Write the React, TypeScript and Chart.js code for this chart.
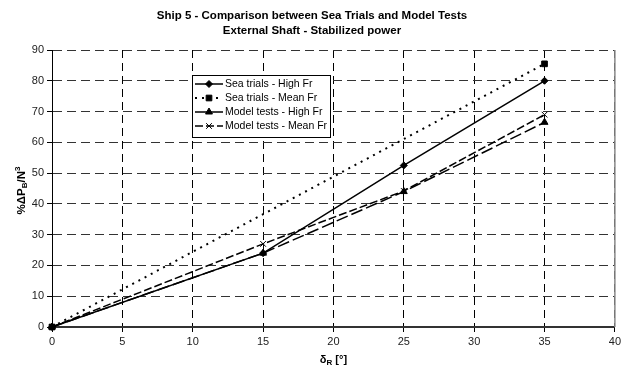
import React, { useEffect, useRef } from 'react';
import { Chart, registerables } from 'chart.js';
import { drawPoint } from 'chart.js/helpers';

Chart.register(...registerables);

const titleLines = ['Ship 5 - Comparison between Sea Trials and Model Tests', 'External Shaft - Stabilized power'];
const seriesNames = ['Sea trials - High Fr', 'Sea trials - Mean Fr', 'Model tests - High Fr', 'Model tests - Mean Fr'];
const xMin = 0, xMax = 40, xStep = 5;
const yMin = 0, yMax = 90, yStep = 10;

const seaHighX = [0, 15, 25, 35];
const seaHighY = [0, 24, 52.5, 80];
const seaMeanX = [0, 35];
const seaMeanY = [0, 85.5];
const modelHighX = [0, 15, 25, 35];
const modelHighY = [0, 24, 44, 66.5];
const modelMeanX = [0, 15, 25, 35];
const modelMeanY = [0, 27, 44.2, 69];

const pts = (xs: number[], ys: number[]) => xs.map((x, i) => ({ x, y: ys[i] }));

const styles = [
  { dash: [] as number[], point: 'rectRot', radius: 3.5, width: 1.5 },
  { dash: [2, 5], point: 'rect', radius: 4, width: 2 },
  { dash: [12, 4], point: 'triangle', radius: 4, width: 1.5 },
  { dash: [8, 3], point: 'crossRot', radius: 4, width: 1.5 },
];

const FONT = '"Liberation Sans", Arial, sans-serif';

const decorPlugin = {
  id: 'decor',
  afterDraw(chart: any) {
    const ctx = chart.ctx as CanvasRenderingContext2D;
    const ca = chart.chartArea;
    ctx.save();
    // right border
    ctx.strokeStyle = '#888';
    ctx.lineWidth = 1.5;
    ctx.setLineDash([]);
    ctx.beginPath();
    ctx.moveTo(ca.right, ca.top);
    ctx.lineTo(ca.right, ca.bottom);
    ctx.stroke();

    // title
    ctx.fillStyle = '#000';
    ctx.font = `bold 11.5px ${FONT}`;
    ctx.textAlign = 'center';
    ctx.textBaseline = 'middle';
    ctx.fillText(titleLines[0], 312, 16);
    ctx.fillText(titleLines[1], 312, 31);

    // x title: δR [°]
    const xc = (ca.left + ca.right) / 2;
    const yx = 360;
    ctx.font = `bold 11px ${FONT}`;
    const a = 'δ', b = 'R', c = ' [°]';
    ctx.textAlign = 'left';
    const wa = ctx.measureText(a).width;
    const wc = ctx.measureText(c).width;
    ctx.font = `bold 8px ${FONT}`;
    const wb = ctx.measureText(b).width;
    let x0 = xc - (wa + wb + wc) / 2;
    ctx.font = `bold 11px ${FONT}`;
    ctx.fillText(a, x0, yx);
    ctx.font = `bold 8px ${FONT}`;
    ctx.fillText(b, x0 + wa, yx + 3);
    ctx.font = `bold 11px ${FONT}`;
    ctx.fillText(c, x0 + wa + wb, yx);

    // y title: %ΔP_B/N^3 rotated
    ctx.save();
    ctx.translate(22, (ca.top + ca.bottom) / 2 + 2);
    ctx.rotate(-Math.PI / 2);
    const parts = [
      { t: '%ΔP', s: 11.5, dy: 0 },
      { t: 'B', s: 8, dy: 3 },
      { t: '/N', s: 11.5, dy: 0 },
      { t: '3', s: 8, dy: -4 },
    ];
    let tw = 0;
    parts.forEach(p => { ctx.font = `bold ${p.s}px ${FONT}`; tw += ctx.measureText(p.t).width; });
    let px = -tw / 2;
    parts.forEach(p => {
      ctx.font = `bold ${p.s}px ${FONT}`;
      ctx.fillText(p.t, px, p.dy);
      px += ctx.measureText(p.t).width;
    });
    ctx.restore();

    // legend
    const lx = 192, ly = 75, lw = 138, lh = 62;
    ctx.fillStyle = '#fff';
    ctx.fillRect(lx, ly, lw, lh);
    ctx.strokeStyle = '#000';
    ctx.lineWidth = 1;
    ctx.setLineDash([]);
    ctx.strokeRect(lx + 0.5, ly + 0.5, lw, lh);
    seriesNames.forEach((name, i) => {
      const st = styles[i];
      const yy = ly + 9 + i * 14;
      ctx.strokeStyle = '#000';
      ctx.lineWidth = st.width;
      ctx.setLineDash(st.dash);
      ctx.beginPath();
      ctx.moveTo(lx + 3, yy);
      ctx.lineTo(lx + 31, yy);
      ctx.stroke();
      ctx.setLineDash([]);
      ctx.fillStyle = '#000';
      ctx.lineWidth = 1;
      drawPoint(ctx, { pointStyle: st.point as any, radius: st.radius, rotation: 0, borderWidth: 1 } as any, lx + 17, yy);
      ctx.fillStyle = '#000';
      ctx.font = `10.5px ${FONT}`;
      ctx.textAlign = 'left';
      ctx.textBaseline = 'middle';
      ctx.fillText(name, lx + 33, yy + 0.5);
    });
    ctx.restore();
  },
};

export default function App() {
  const ref = useRef<HTMLCanvasElement>(null);
  useEffect(() => {
    const canvas = ref.current!;
    const datasets = [
      pts(seaHighX, seaHighY),
      pts(seaMeanX, seaMeanY),
      pts(modelHighX, modelHighY),
      pts(modelMeanX, modelMeanY),
    ].map((data, i) => ({
      label: seriesNames[i],
      data,
      borderColor: '#000',
      backgroundColor: '#000',
      borderWidth: styles[i].width,
      borderDash: styles[i].dash,
      pointStyle: styles[i].point,
      pointRadius: styles[i].radius,
      pointBorderWidth: 1,
      pointBackgroundColor: '#000',
      pointBorderColor: '#000',
      tension: 0,
      clip: false as any,
    }));
    const chart = new Chart(canvas, {
      type: 'line',
      data: { datasets },
      options: {
        responsive: false,
        animation: false,
        parsing: false as any,
        layout: { padding: { top: 50, right: 9, left: 0, bottom: 0 } },
        plugins: { legend: { display: false }, title: { display: false }, tooltip: { enabled: false } },
        scales: {
          x: {
            type: 'linear',
            min: xMin,
            max: xMax,
            ticks: { stepSize: xStep, color: '#222', font: { family: FONT, size: 11 }, padding: 3, maxRotation: 0 },
            grid: { color: '#000', lineWidth: 1, tickLength: 5, tickColor: '#000', tickBorderDash: [] },
            border: { display: true, color: '#333', width: 2, dash: [8, 5] },
            afterFit: (s: any) => { s.height = 45; },
          },
          y: {
            type: 'linear',
            min: yMin,
            max: yMax,
            ticks: { stepSize: yStep, color: '#222', font: { family: FONT, size: 11 }, padding: 3 },
            grid: { color: '#333', lineWidth: 1, tickLength: 5, tickColor: '#000', tickBorderDash: [] },
            border: { display: true, color: '#000', width: 1, dash: [9, 5] },
            afterFit: (s: any) => { s.width = 52; },
          },
        },
      },
      plugins: [decorPlugin],
    });
    return () => chart.destroy();
  }, []);
  return (
    <div style={{ position: 'absolute', left: 0, top: 0, width: 624, height: 372, background: '#fff' }}>
      <canvas ref={ref} width={624} height={372} />
    </div>
  );
}
